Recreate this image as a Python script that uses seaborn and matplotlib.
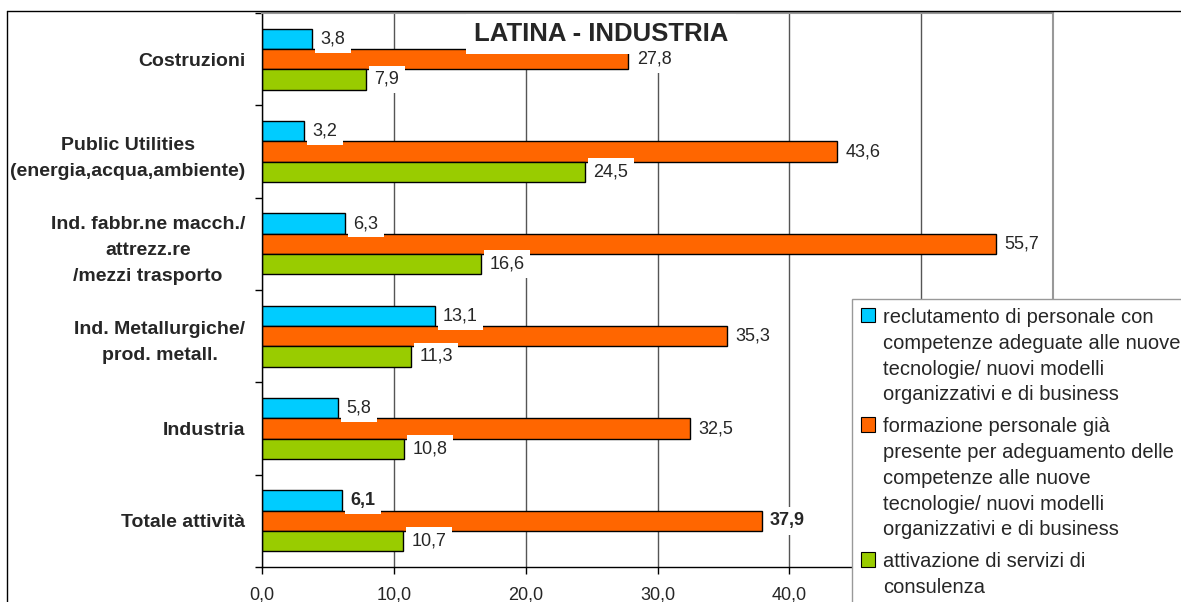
import matplotlib
matplotlib.use('Agg')
import matplotlib.pyplot as plt
from matplotlib.lines import Line2D
from matplotlib.patches import Patch
from matplotlib.ticker import FixedLocator
import seaborn as sns
import pandas as pd

# DATA
categories = [
    "Costruzioni",
    "Public Utilities\n(energia,acqua,ambiente)",
    "Ind. fabbr.ne macch./\nattrezz.re\n/mezzi trasporto",
    "Ind. Metallurgiche/\nprod. metall.",
    "Industria",
    "Totale attività",
]
series = ["reclutamento", "formazione", "consulenza"]
reclutamento = [3.8, 3.2, 6.3, 13.1, 5.8, 6.1]
formazione = [27.8, 43.6, 55.7, 35.3, 32.5, 37.9]
consulenza = [7.9, 24.5, 16.6, 11.3, 10.8, 10.7]
legend_labels = [
    "reclutamento di personale con\ncompetenze adeguate alle nuove\ntecnologie/ nuovi modelli\norganizzativi e di business",
    "formazione personale già\npresente per adeguamento delle\ncompetenze alle nuove\ntecnologie/ nuovi modelli\norganizzativi e di business",
    "attivazione di servizi di\nconsulenza",
]
x_ticks = [0, 10, 20, 30, 40, 50, 60]
# 50 and 60 sit behind the legend in the original, so no label is shown there
x_tick_labels = ["0,0", "10,0", "20,0", "30,0", "40,0", "", ""]
title = "LATINA - INDUSTRIA"
bold_category = "Totale attività"
bold_series = ["reclutamento", "formazione"]

colors = ["#00CCFF", "#FF6600", "#99CC00"]

rows = []
for s, vals in zip(series, [reclutamento, formazione, consulenza]):
    for c, v in zip(categories, vals):
        rows.append({"categoria": c, "serie": s, "valore": v})
df = pd.DataFrame(rows)

sns.set_style('white')
plt.rcParams['font.family'] = ['Liberation Sans', 'DejaVu Sans']

W, H = 1181, 602
fig = plt.figure(figsize=(W / 100, H / 100), dpi=100)
ax = fig.add_axes([262 / W, 1 - 567 / H, (1053 - 262) / W, (567 - 13) / H])

sns.barplot(
    data=df, y="categoria", x="valore", hue="serie", orient="h",
    order=categories, hue_order=series, palette=colors, saturation=1,
    edgecolor="black", linewidth=1.0, width=0.66, legend=False, ax=ax
)

ax.set_xlim(0, 60)
ax.set_ylim(5.5, -0.5)
ax.set_xlabel("")
ax.set_ylabel("")

# x axis
ax.set_xticks(x_ticks, x_tick_labels)
ax.tick_params(axis='x', which='major', bottom=True, length=5, width=1, color='black',
               labelsize=13, pad=9)
ax.grid(axis='x', color='#555555', linewidth=1)
ax.grid(axis='y', visible=False)
ax.set_axisbelow(True)

# y axis: labels at centres, tick marks between categories
ax.tick_params(axis='y', which='major', left=False, length=0, labelsize=14, pad=12)
ax.yaxis.set_minor_locator(FixedLocator([i - 0.5 for i in range(len(categories) + 1)]))
ax.tick_params(axis='y', which='minor', left=True, length=5, width=1, color='black')
for lab in ax.get_yticklabels():
    lab.set_fontweight('bold')
    lab.set_multialignment('center')
    lab.set_linespacing(1.7)

for side in ['left', 'bottom']:
    ax.spines[side].set_color('black')
    ax.spines[side].set_linewidth(1)
for side in ['top', 'right']:
    ax.spines[side].set_color('#999999')
    ax.spines[side].set_linewidth(1.5)

# value labels
for s, cont in zip(series, ax.containers):
    labs = ax.bar_label(
        cont, labels=[f"{b.get_width():.1f}".replace(".", ",") for b in cont],
        padding=6, fontsize=13, zorder=4,
        bbox=dict(boxstyle='square,pad=0.3', facecolor='white', edgecolor='none')
    )
    if s in bold_series:
        labs[categories.index(bold_category)].set_fontweight('bold')

# title
ax.text(601 / W, 1 - 34 / H, title, transform=fig.transFigure, ha='center', va='center',
        fontsize=18.5, fontweight='bold', zorder=3.5,
        bbox=dict(boxstyle='square,pad=0.3', facecolor='white', edgecolor='none'))

# legend
handles = [Patch(facecolor=c, edgecolor='black', linewidth=0.8) for c in colors]
leg = ax.legend(
    handles, legend_labels, loc='upper left', bbox_to_anchor=(852 / W, 1 - 299 / H),
    bbox_transform=fig.transFigure, fontsize=14.5, frameon=True, fancybox=False,
    edgecolor='#999999', framealpha=1, borderpad=0.45, labelspacing=0.65,
    handlelength=0.7, handleheight=0.7, handletextpad=0.4, borderaxespad=0
)
leg.get_frame().set_linewidth(1)
for t in leg.get_texts():
    t.set_linespacing(1.45)
for col in leg._legend_handle_box.get_children():
    for row in col.get_children():
        row.align = 'top'

# outer chart border
fig.add_artist(Line2D([7 / W, 7 / W], [0, 1 - 11 / H], color='black', linewidth=1))
fig.add_artist(Line2D([7 / W, 1], [1 - 11 / H, 1 - 11 / H], color='black', linewidth=1))

fig.savefig('out.png', dpi=100)
plt.close(fig)
